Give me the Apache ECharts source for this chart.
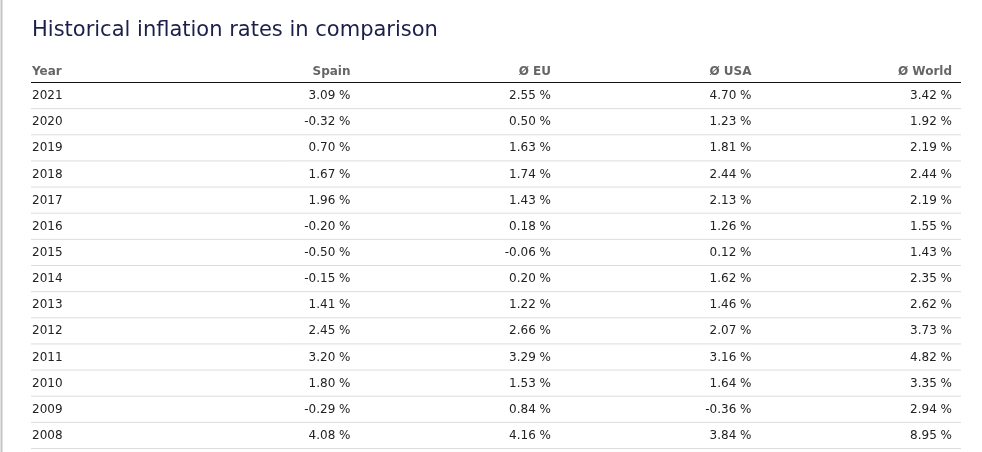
<!DOCTYPE html>
<html>
<head>
<meta charset="utf-8">
<script src="https://cdn.jsdelivr.net/npm/echarts@6/dist/echarts.min.js"></script>
<style>
  html, body { margin: 0; padding: 0; background: #fff; }
  #main { width: 982px; height: 452px; }
</style>
</head>
<body>
<div id="main"></div>
<script>
// table data
var title = 'Historical inflation rates in comparison';
var columns = ['Year', 'Spain', 'Ø EU', 'Ø USA', 'Ø World'];
var years = ['2021', '2020', '2019', '2018', '2017', '2016', '2015', '2014', '2013', '2012', '2011', '2010', '2009', '2008'];
var spain = [3.09, -0.32, 0.70, 1.67, 1.96, -0.20, -0.50, -0.15, 1.41, 2.45, 3.20, 1.80, -0.29, 4.08];
var eu = [2.55, 0.50, 1.63, 1.74, 1.43, 0.18, -0.06, 0.20, 1.22, 2.66, 3.29, 1.53, 0.84, 4.16];
var usa = [4.70, 1.23, 1.81, 2.44, 2.13, 1.26, 0.12, 1.62, 1.46, 2.07, 3.16, 1.64, -0.36, 3.84];
var world = [3.42, 1.92, 2.19, 2.44, 2.19, 1.55, 1.43, 2.35, 2.62, 3.73, 4.82, 3.35, 2.94, 8.95];

var FONT = 'DejaVu Sans, Verdana, sans-serif';

var rows = years.map(function (y, i) {
    return [i, spain[i], eu[i], usa[i], world[i]];
});

function fmt(v) {
    return v.toFixed(2) + ' %';
}

function renderRow(params, api) {
    var cs = params.coordSys;
    var row = api.value(0);
    var yc = api.coord([0, row])[1];
    var band = api.size([0, 1])[1];
    var left = cs.x - 119, right = cs.x + cs.width + 9;
    var children = [];

    if (params.dataIndex === 0) {
        // header row
        var hy = yc - band + 2;
        children.push({
            type: 'text',
            style: { x: left + 1, y: hy, text: columns[0], align: 'left', verticalAlign: 'middle',
                font: 'bold 12px ' + FONT, fill: '#666' }
        });
        for (var h = 1; h < columns.length; h++) {
            children.push({
                type: 'text',
                style: { x: api.coord([h, row])[0], y: hy, text: columns[h], align: 'right', verticalAlign: 'middle',
                    font: 'bold 12px ' + FONT, fill: '#666' }
            });
        }
        children.push({
            type: 'line',
            shape: { x1: left, y1: yc - band / 2 - 0.5, x2: right, y2: yc - band / 2 - 0.5 },
            style: { stroke: '#111', lineWidth: 1.2 }
        });
    }

    children.push({
        type: 'text',
        style: { x: left + 1, y: yc, text: years[row], align: 'left', verticalAlign: 'middle',
            font: '12px ' + FONT, fill: '#222' }
    });
    for (var c = 1; c <= 4; c++) {
        children.push({
            type: 'text',
            style: { x: api.coord([c, row])[0], y: yc, text: fmt(api.value(c)), align: 'right', verticalAlign: 'middle',
                font: '12px ' + FONT, fill: '#222' }
        });
    }
    children.push({
        type: 'line',
        shape: { x1: left, y1: yc + band / 2 - 0.5, x2: right, y2: yc + band / 2 - 0.5 },
        style: { stroke: '#ddd', lineWidth: 1 }
    });
    return { type: 'group', children: children };
}

var chart = echarts.init(document.getElementById('main'), null, { renderer: 'canvas' });
chart.setOption({
    animation: false,
    backgroundColor: '#fff',
    title: {
        text: title,
        left: 32, top: 20, padding: 0,
        textStyle: { fontFamily: FONT, fontSize: 21, fontWeight: 'normal', color: '#1c1f4a' }
    },
    graphic: [{
        type: 'line',
        shape: { x1: 1.5, y1: 0, x2: 1.5, y2: 452 },
        style: { stroke: '#c4c4c4', lineWidth: 2 }
    }],
    grid: { left: 150, right: 30, top: 83, bottom: 3 },
    xAxis: { type: 'value', min: 0, max: 4, show: false },
    yAxis: { type: 'category', data: years, inverse: true, show: false },
    series: [{
        type: 'custom',
        renderItem: renderRow,
        encode: { y: 0 },
        data: rows
    }]
});
</script>
</body>
</html>
